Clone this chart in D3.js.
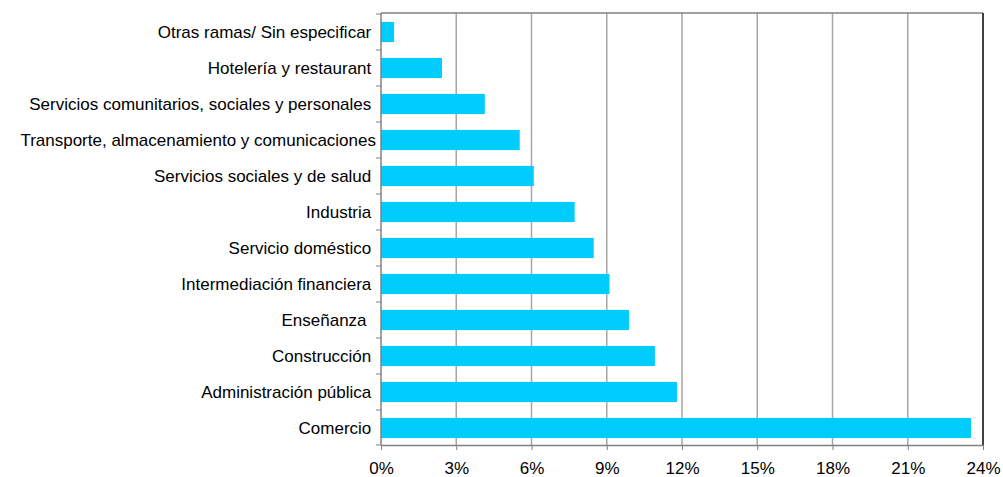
<!DOCTYPE html>
<html>
<head>
<meta charset="utf-8">
<script src="https://cdn.jsdelivr.net/npm/d3@7"></script>
<style>
  body { margin: 0; background: #fff; }
  text { font-family: "Liberation Sans", Arial, sans-serif; fill: #000; }
</style>
</head>
<body>
<div id="chart"></div>
<script>
// DATA
const categories = [
  "Otras ramas/ Sin especificar ",
  "Hotelería y restaurant ",
  "Servicios comunitarios, sociales y personales ",
  "Transporte, almacenamiento y comunicaciones",
  "Servicios sociales y de salud ",
  "Industria ",
  "Servicio doméstico ",
  "Intermediación financiera ",
  "Enseñanza  ",
  "Construcción ",
  "Administración pública ",
  "Comercio "
]
const shares = [0.52, 2.43, 4.14, 5.53, 6.09, 7.72, 8.48, 9.11, 9.89, 10.92, 11.8, 23.52]
const xTicks = [0, 3, 6, 9, 12, 15, 18, 21, 24]

const width = 1003, height = 477
const margin = {top: 13, right: 20, bottom: 32, left: 381}

const svg = d3.select("#chart")
  .append("svg")
  .attr("width", width)
  .attr("height", height)

const xScale = d3.scaleLinear()
  .domain([0, 24])
  .range([margin.left, 983])

const yScale = d3.scaleBand()
  .domain(categories)
  .range([margin.top + 1, height - margin.bottom + 1])
  .paddingInner(0.44)
  .paddingOuter(0.22)

// GRIDLINES
svg.append("g")
  .selectAll("line")
  .data(xTicks.slice(1, -1))
  .join("line")
    .attr("x1", d => xScale(d))
    .attr("x2", d => xScale(d))
    .attr("y1", margin.top)
    .attr("y2", height - margin.bottom)
    .attr("stroke", "#a6a6a6")
    .attr("stroke-width", 1.5)

// BARS
svg.append("g")
  .selectAll("rect")
  .data(shares)
  .join("rect")
    .attr("x", xScale(0))
    .attr("y", (d, i) => yScale(categories[i]))
    .attr("width", d => xScale(d) - xScale(0))
    .attr("height", yScale.bandwidth())
    .attr("fill", "#00ccff")

// FRAME (top + right)
svg.append("line")
  .attr("x1", xScale(0)).attr("x2", xScale(24))
  .attr("y1", margin.top).attr("y2", margin.top)
  .attr("stroke", "#808080").attr("stroke-width", 1.5)
svg.append("line")
  .attr("x1", xScale(24)).attr("x2", xScale(24))
  .attr("y1", margin.top).attr("y2", height - margin.bottom)
  .attr("stroke", "#404040").attr("stroke-width", 2)

// X AXIS
const xAxis = svg.append("g")
  .attr("transform", `translate(0, ${height - margin.bottom})`)
  .call(d3.axisBottom(xScale)
    .tickValues(xTicks)
    .tickSize(5)
    .tickSizeOuter(0)
    .tickPadding(12)
    .tickFormat(d => d + "%"))
xAxis.select(".domain").attr("stroke", "#808080").attr("stroke-width", 1.5)
xAxis.selectAll(".tick line").attr("stroke", "#808080")
xAxis.selectAll("text").attr("font-size", 17).attr("fill", "#000")

// Y AXIS (ticks at band boundaries)
const bounds = categories.map(c => yScale(c) - yScale.step() * yScale.paddingInner() / 2)
bounds.push(height - margin.bottom)
svg.append("line")
  .attr("x1", xScale(0)).attr("x2", xScale(0))
  .attr("y1", margin.top).attr("y2", height - margin.bottom)
  .attr("stroke", "#808080").attr("stroke-width", 1.5)
svg.append("g")
  .selectAll("line")
  .data(bounds)
  .join("line")
    .attr("x1", xScale(0) - 5)
    .attr("x2", xScale(0))
    .attr("y1", d => Math.max(d, margin.top))
    .attr("y2", d => Math.max(d, margin.top))
    .attr("stroke", "#808080")

svg.append("g")
  .selectAll("text")
  .data(categories)
  .join("text")
    .attr("x", xScale(0) - 5)
    .attr("y", d => yScale(d) + yScale.bandwidth() / 2)
    .attr("dy", "0.35em")
    .attr("text-anchor", "end")
    .attr("font-size", 17)
    .style("white-space", "pre")
    .text(d => d)
</script>
</body>
</html>
